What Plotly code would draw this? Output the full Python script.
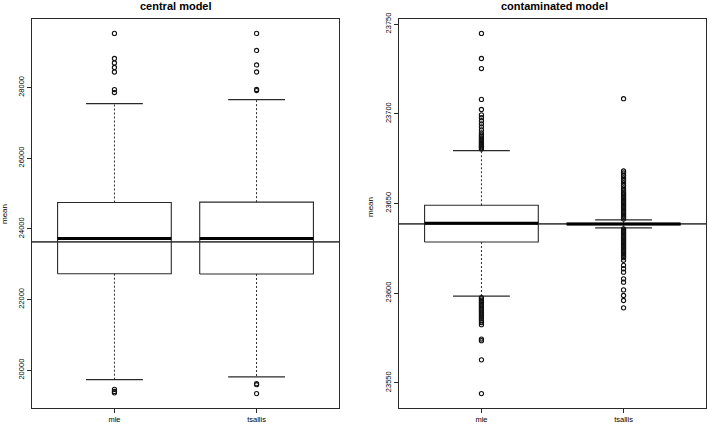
import plotly.graph_objects as go

# ---------------- data ----------------
categories = ["mle", "tsallis"]

# central model
central_q1 = [22732, 22723]
central_median = [23725, 23725]
central_q3 = [24746, 24757]
central_lower = [19736, 19810]
central_upper = [27546, 27660]
central_outliers_mle = [29532, 28823, 28695, 28568, 28440, 27943, 27858, 19460, 19400, 19360]
central_outliers_tsallis = [29532, 29050, 28640, 28440, 27945, 27915, 19620, 19590, 19339]
central_hline = 23631

# contaminated model
cont_q1 = [23628.5, 23638.2]
cont_median = [23639.0, 23638.6]
cont_q3 = [23649.0, 23639.0]
cont_lower = [23598.3, 23636.4]
cont_upper = [23679.5, 23640.8]
cont_outliers_mle = [23744.8, 23730.8, 23725.2, 23708.0, 23702.4, 23699.4, 23697.8, 23696.1,
                     23694.4, 23692.7, 23691.0, 23689.4, 23688.2, 23687.4, 23686.6, 23685.8,
                     23685.0, 23684.3, 23683.6, 23682.9, 23682.2, 23681.6, 23681.0, 23680.4,
                     23597.5, 23596.8, 23596.0, 23595.3, 23594.6, 23593.9, 23593.2, 23592.4,
                     23591.6, 23590.8, 23590.0, 23589.1, 23588.2, 23587.4, 23586.5, 23585.6,
                     23584.7, 23583.6, 23582.4, 23574.4, 23573.5, 23562.8, 23544.0]
cont_outliers_tsallis = [23708.4, 23668.1, 23667.0, 23665.6, 23664.2, 23662.8, 23661.4, 23660.0,
                         23658.6, 23657.4, 23656.3, 23655.4, 23654.7, 23654.0, 23653.3, 23652.6,
                         23651.9, 23651.2, 23650.5, 23649.8, 23649.1, 23648.4, 23647.7, 23647.0,
                         23646.3, 23645.6, 23644.9, 23644.2, 23643.5, 23642.8, 23642.1, 23641.4,
                         23635.8, 23635.1, 23634.4, 23633.7, 23633.0, 23632.3, 23631.6, 23630.9,
                         23630.2, 23629.5, 23628.8, 23628.1, 23627.4, 23626.7, 23626.0, 23625.3,
                         23624.6, 23623.9, 23623.2, 23622.5, 23621.8, 23621.1, 23620.4, 23619.8,
                         23618.3, 23615.5, 23613.6, 23611.7, 23608.0, 23606.1, 23601.8, 23598.7,
                         23595.9, 23591.8]
cont_hline = 23638.6

titles = ["central model", "contaminated model"]
y_title = "mean"

# ---------------- styling ----------------
W, H = 709, 425
LINE = "#2a2a2a"
FONT = "Liberation Sans"
BOXW = 0.4     # half box width (R boxwex 0.8)
CAPW = 0.2     # half staple width

fig = go.Figure()


def add_panel(xa, ya, q1, med, q3, lo, hi, outs, hline):
    # reference line (drawn first so medians stay black on top)
    fig.add_trace(go.Scatter(x=[0.42, 2.58], y=[hline, hline], mode="lines",
                             line=dict(color="#4a4a4a", width=1.8),
                             xaxis=xa, yaxis=ya, hoverinfo="skip"))
    for i in range(len(categories)):
        x = i + 1
        # whiskers (dashed)
        fig.add_trace(go.Scatter(x=[x, x], y=[q3[i], hi[i]], mode="lines",
                                 line=dict(color=LINE, width=1, dash="2px,2px"),
                                 xaxis=xa, yaxis=ya, hoverinfo="skip"))
        fig.add_trace(go.Scatter(x=[x, x], y=[q1[i], lo[i]], mode="lines",
                                 line=dict(color=LINE, width=1, dash="2px,2px"),
                                 xaxis=xa, yaxis=ya, hoverinfo="skip"))
        # staples
        for v in (hi[i], lo[i]):
            fig.add_trace(go.Scatter(x=[x - CAPW, x + CAPW], y=[v, v], mode="lines",
                                     line=dict(color=LINE, width=1.2),
                                     xaxis=xa, yaxis=ya, hoverinfo="skip"))
        # outliers
        fig.add_trace(go.Scatter(x=[x] * len(outs[i]), y=outs[i], mode="markers",
                                 marker=dict(symbol="circle-open", size=4.2, color="#111",
                                             line=dict(width=1.1)),
                                 xaxis=xa, yaxis=ya, hoverinfo="skip"))
        # box
        fig.add_trace(go.Scatter(x=[x - BOXW, x + BOXW, x + BOXW, x - BOXW, x - BOXW],
                                 y=[q1[i], q1[i], q3[i], q3[i], q1[i]], mode="lines",
                                 line=dict(color=LINE, width=1.1),
                                 xaxis=xa, yaxis=ya, hoverinfo="skip"))
        # median
        fig.add_trace(go.Scatter(x=[x - BOXW, x + BOXW], y=[med[i], med[i]], mode="lines",
                                 line=dict(color="black", width=3),
                                 xaxis=xa, yaxis=ya, hoverinfo="skip"))


add_panel("x", "y", central_q1, central_median, central_q3, central_lower, central_upper,
          [central_outliers_mle, central_outliers_tsallis], central_hline)
add_panel("x2", "y2", cont_q1, cont_median, cont_q3, cont_lower, cont_upper,
          [cont_outliers_mle, cont_outliers_tsallis], cont_hline)


def yrange(*lists):
    vals = [v for l in lists for v in l]
    lo, hi = min(vals), max(vals)
    d = hi - lo
    return [lo - 0.04 * d, hi + 0.04 * d]


r1 = yrange(central_lower, central_upper, central_outliers_mle, central_outliers_tsallis)
r2 = yrange(cont_lower, cont_upper, cont_outliers_mle, cont_outliers_tsallis)

axis_common = dict(showgrid=False, zeroline=False, showline=True, mirror=True,
                   linecolor=LINE, linewidth=1, ticks="outside", ticklen=4,
                   tickcolor=LINE, tickwidth=1,
                   tickfont=dict(family=FONT, size=7.5, color="black"), automargin=False)

PLOT_T, PLOT_B = 19, 408
fig.update_layout(
    width=W, height=H, showlegend=False,
    paper_bgcolor="white", plot_bgcolor="white",
    margin=dict(l=0, r=0, t=PLOT_T, b=H - PLOT_B),
    xaxis=dict(**axis_common, domain=[32 / W, 339 / W], range=[0.42, 2.58],
               tickvals=[1, 2], ticktext=categories),
    yaxis=dict(**axis_common, range=r1, tick0=20000, dtick=2000, tickangle=-90,
               tickformat="d"),
    xaxis2=dict(**axis_common, domain=[399 / W, 706 / W], range=[0.42, 2.58],
                tickvals=[1, 2], ticktext=categories, anchor="y2"),
    yaxis2=dict(**axis_common, range=r2, tick0=23550, dtick=50, tickangle=-90, anchor="x2",
                tickformat="d"),
)

ph = PLOT_B - PLOT_T
annots = [
    dict(text="<b>" + titles[0] + "</b>", x=176 / W, y=(PLOT_B - 6) / ph, xref="paper", yref="paper",
         showarrow=False, font=dict(family=FONT, size=11, color="black"), xanchor="center", yanchor="middle"),
    dict(text="<b>" + titles[1] + "</b>", x=554 / W, y=(PLOT_B - 6) / ph, xref="paper", yref="paper",
         showarrow=False, font=dict(family=FONT, size=11, color="black"), xanchor="center", yanchor="middle"),
    dict(text=y_title, x=5 / W, y=(PLOT_B - 214) / ph, xref="paper", yref="paper", textangle=-90,
         showarrow=False, font=dict(family=FONT, size=8, color="black"), xanchor="center", yanchor="middle"),
    dict(text=y_title, x=370 / W, y=(PLOT_B - 207) / ph, xref="paper", yref="paper", textangle=-90,
         showarrow=False, font=dict(family=FONT, size=8, color="black"), xanchor="center", yanchor="middle"),
]
fig.update_layout(annotations=annots)

fig.write_html("out.html", config={"displayModeBar": False},
               post_script="document.body.style.margin='0';document.body.style.overflow='hidden';")
